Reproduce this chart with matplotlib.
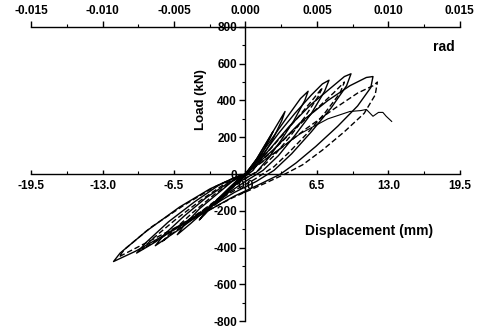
import numpy as np
from matplotlib import pyplot as plt
from matplotlib.ticker import MultipleLocator

plt.rcParams['font.family'] = ['Liberation Sans', 'DejaVu Sans']
plt.rcParams['font.weight'] = 'bold'
plt.rcParams['axes.unicode_minus'] = False

# hysteresis loops, displacement (mm) / load (kN)
xA = [0, 0.5, 1.0, 1.5, 1.2, 0.6, 0.1, -0.5, -1.0, -1.5, -1.2, -0.6, 0]
yA = [0, 40, 80, 110, 85, 40, 0, -30, -60, -90, -65, -25, 0]

xB = [0, 0.8, 1.6, 2.2, 2.5, 2.2, 1.5, 0.7, 0.2, -0.7, -1.6, -2.3, -2.8, -2.4, -1.5, -0.6, 0]
yB = [0, 60, 140, 200, 230, 190, 110, 40, 0, -45, -100, -145, -170, -140, -80, -25, 0]

xC = [0, 1.0, 2.0, 3.0, 3.6, 3.3, 2.5, 1.5, 0.7, -0.4, -1.6, -2.8, -3.7, -4.2, -3.7, -2.6, -1.4, -0.4, 0]
yC = [0, 80, 180, 280, 340, 290, 190, 90, 20, -30, -90, -160, -220, -250, -210, -140, -70, -15, 0]

xD = [0, 1.2, 2.5, 3.8, 5.0, 5.7, 5.4, 4.4, 3.2, 2.0, 1.0, -0.5, -2.0, -3.5, -5.0, -6.2, -5.6, -4.2, -2.6, -1.2, 0]
yD = [0, 90, 200, 310, 410, 450, 400, 290, 180, 80, 10, -40, -110, -190, -270, -330, -280, -190, -110, -40, 0]

xE = [0, 1.5, 3.0, 4.5, 6.0, 7.0, 7.6, 7.2, 6.0, 4.5, 3.0, 1.6, 0, -2.0, -4.0, -6.0, -8.2, -7.4, -5.6, -3.6, -1.6, 0]
yE = [0, 100, 220, 330, 430, 490, 510, 450, 330, 210, 100, 20, -40, -120, -210, -300, -390, -330, -230, -130, -50, 0]

xE2 = [0, 1.6, 3.2, 4.8, 6.2, 7.0, 6.6, 5.4, 4.0, 2.6, 1.2, -0.4, -2.4, -4.6, -6.8, -7.6, -6.8, -4.8, -2.8, -1.0, 0]
yE2 = [0, 90, 200, 310, 410, 470, 420, 310, 200, 100, 20, -40, -130, -230, -330, -370, -320, -210, -110, -30, 0]

xF = [0, 2.0, 4.0, 6.0, 7.8, 9.0, 9.6, 9.2, 7.8, 6.0, 4.2, 2.6, 1.0, -1.0, -3.5, -6.0, -8.2, -9.9, -9.0, -7.0, -4.6, -2.4, -0.6, 0]
yF = [0, 120, 260, 380, 470, 530, 545, 480, 360, 230, 110, 20, -40, -100, -190, -280, -370, -430, -370, -260, -150, -60, -10, 0]

xF2 = [0, 2.2, 4.4, 6.4, 8.0, 9.0, 8.6, 7.2, 5.6, 4.0, 2.6, 0.8, -1.6, -4.2, -7.0, -9.4, -8.6, -6.4, -4.0, -1.8, 0]
yF2 = [0, 110, 240, 350, 440, 500, 440, 330, 220, 120, 40, -30, -110, -210, -320, -410, -360, -250, -140, -50, 0]

xG = [0, 2.5, 5.0, 7.5, 9.5, 11.0, 11.6, 11.4, 10.2, 8.4, 6.4, 4.6, 3.2, 1.5, -1.0, -4.0, -7.0, -10.0, -12.0, -11.4, -9.0, -6.0, -3.2, -1.0, 0]
yG = [0, 130, 280, 400, 480, 525, 530, 470, 370, 260, 150, 60, 0, -50, -120, -220, -320, -420, -476, -430, -310, -180, -80, -20, 0]

xG2 = [0, 2.8, 5.6, 8.2, 10.2, 11.6, 12.0, 11.8, 10.8, 9.0, 7.0, 5.2, 3.6, 1.8, -1.2, -4.4, -7.6, -10.2, -11.5, -11.0, -8.6, -5.6, -2.8, -0.8, 0]
yG2 = [0, 120, 250, 360, 440, 480, 500, 430, 330, 230, 130, 50, 0, -50, -130, -230, -330, -410, -450, -410, -290, -170, -70, -15, 0]

xH = [0, 2.5, 5.0, 7.5, 9.5, 10.5, 11.0, 11.6, 12.1, 12.5, 12.8, 13.3]
yH = [0, 110, 220, 300, 340, 345, 351, 314, 335, 335, 314, 286]

solid_loops = [(xA, yA), (xB, yB), (xC, yC), (xD, yD), (xE, yE), (xF, yF), (xG, yG)]
dashed_loops = [(xE2, yE2), (xF2, yF2), (xG2, yG2)]

xticks = [-19.5, -13.0, -6.5, 0.0, 6.5, 13.0, 19.5]
yticks = [-800, -600, -400, -200, 0, 200, 400, 600, 800]
rad_ticks = [-0.015, -0.010, -0.005, 0.0, 0.005, 0.010, 0.015]

fig = plt.figure(figsize=(4.78, 3.28), dpi=100)
ax = fig.add_axes([0.065, 0.021, 0.897, 0.897])

for x, y in solid_loops:
    ax.plot(x, y, color='black', lw=1.0)
for x, y in dashed_loops:
    ax.plot(x, y, color='black', lw=1.0, dashes=(4, 2))
ax.plot(xH, yH, color='black', lw=0.8)

ax.set_xlim(-19.5, 19.5)
ax.set_ylim(-800, 800)

ax.spines['left'].set_position(('data', 0))
ax.spines['bottom'].set_position(('data', 0))
ax.spines['right'].set_visible(False)
ax.spines['top'].set_visible(False)
for s in ['left', 'bottom']:
    ax.spines[s].set_linewidth(1.0)

ax.set_xticks(xticks)
ax.set_xticklabels(['%.1f' % v for v in xticks])
ax.xaxis.set_minor_locator(MultipleLocator(3.25))
ax.tick_params(axis='x', which='major', direction='in', length=3, width=1, labelsize=8.5, pad=4)
ax.tick_params(axis='x', which='minor', direction='in', length=2, width=0.8)

ax.set_yticks(yticks)
ax.yaxis.set_minor_locator(MultipleLocator(100))
ax.tick_params(axis='y', which='major', direction='out', length=4, width=1, labelsize=8.5, pad=2)
ax.tick_params(axis='y', which='minor', direction='out', length=2, width=0.8)

fac = 0.015 / 19.5
sec = ax.secondary_xaxis('top', functions=(lambda v: v * fac, lambda v: v / fac))
sec.set_xticks(rad_ticks)
sec.set_xticklabels(['%.3f' % v for v in rad_ticks])
sec.xaxis.set_minor_locator(MultipleLocator(0.0025))
sec.tick_params(axis='x', which='major', direction='out', length=4, width=1, labelsize=8.5, pad=3)
sec.tick_params(axis='x', which='minor', direction='out', length=2, width=0.8)
sec.spines['top'].set_linewidth(1.0)

ax.text(-4.0, 405, 'Load (kN)', rotation=90, ha='center', va='center', fontsize=9.5, fontweight='bold')
ax.text(11.2, -308, 'Displacement (mm)', ha='center', va='center', fontsize=10, fontweight='bold')
ax.text(19.0, 692, 'rad', ha='right', va='center', fontsize=10, fontweight='bold')

fig.savefig('out.png', dpi=100)
